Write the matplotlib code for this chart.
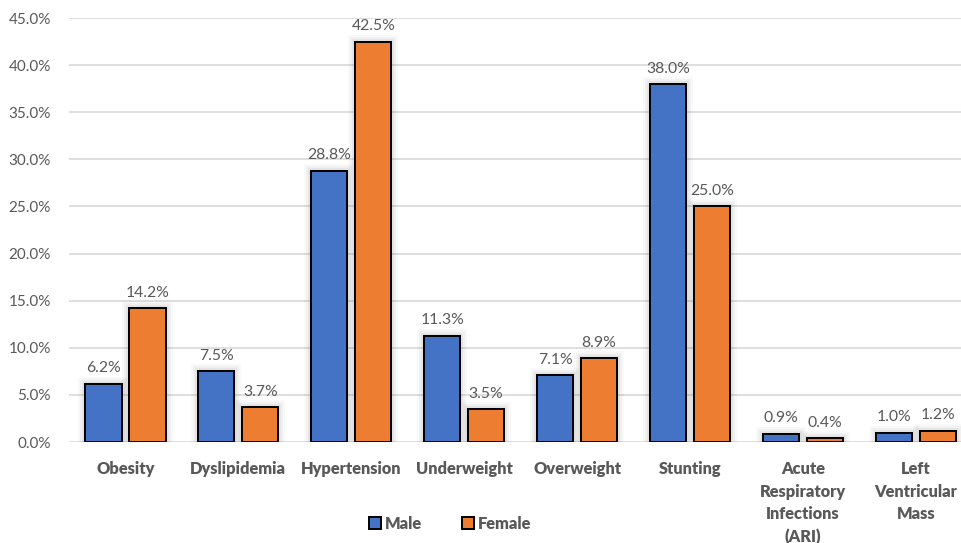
import matplotlib
matplotlib.use("Agg")
import matplotlib.pyplot as plt
import matplotlib.patheffects as pe
import numpy as np

categories = ["Obesity", "Dyslipidemia", "Hypertension", "Underweight", "Overweight",
              "Stunting", "Acute\nRespiratory\nInfections\n(ARI)", "Left\nVentricular\nMass"]
male = [6.2, 7.5, 28.8, 11.3, 7.1, 38.0, 0.9, 1.0]
female = [14.2, 3.7, 42.5, 3.5, 8.9, 25.0, 0.4, 1.2]
yticks = [0, 5, 10, 15, 20, 25, 30, 35, 40, 45]

plt.rcParams['font.family'] = ['Lato', 'DejaVu Sans']
GRAY = '#595959'
BLUE = '#4472C4'
ORANGE = '#ED7D31'

fig = plt.figure(figsize=(9.61, 5.43), dpi=100)
ax = fig.add_axes([69/961, 101/543, 1 - 69/961, (442-18)/543])

x = np.arange(len(categories))
w = 0.32
off = 0.195

glow = [pe.withStroke(linewidth=lw, foreground='#000000', alpha=a) for lw, a in
        [(10, 0.025), (7, 0.035), (4, 0.05)]] + [pe.Normal()]

b1 = ax.bar(x - off, male, w, color=BLUE, edgecolor='black', linewidth=1.4, zorder=3, label='Male')
b2 = ax.bar(x + off, female, w, color=ORANGE, edgecolor='black', linewidth=1.4, zorder=3, label='Female')
for b in list(b1) + list(b2):
    b.set_path_effects(glow)

for bars, vals in ((b1, male), (b2, female)):
    for b, v in zip(bars, vals):
        ax.annotate(f"{v:.1f}%", (b.get_x() + b.get_width()/2, v), xytext=(0, 6),
                    textcoords='offset points', ha='center', va='bottom',
                    fontsize=11.3, color=GRAY, zorder=4)

ax.set_xlim(-0.5, 7.4)
ax.set_ylim(0, 45)
ax.set_yticks(yticks)
ax.set_yticklabels([f"{t:.1f}%" for t in yticks], fontsize=11, color=GRAY)
ax.set_xticks(x)
ax.set_xticklabels(categories, fontsize=11.8, color=GRAY, fontweight='heavy', linespacing=1.5, va='top')
ax.tick_params(axis='both', length=0)
ax.tick_params(axis='x', pad=14)
ax.tick_params(axis='y', pad=13)
ax.grid(axis='y', color='#D9D9D9', linewidth=1.2, zorder=0)
ax.set_axisbelow(True)
for s in ax.spines.values():
    s.set_visible(False)

leg = fig.legend(handles=[b1, b2], labels=['Male', 'Female'], loc='center',
                 bbox_to_anchor=(450/961, 1 - 524/543), ncol=2, frameon=False,
                 handlelength=0.75, handleheight=0.75, handletextpad=0.25, columnspacing=2.4,
                 prop={'weight': 'heavy', 'size': 11.8})
for t in leg.get_texts():
    t.set_color(GRAY)
for h in leg.legend_handles:
    h.set_path_effects([])

fig.savefig("out.png", dpi=100)
